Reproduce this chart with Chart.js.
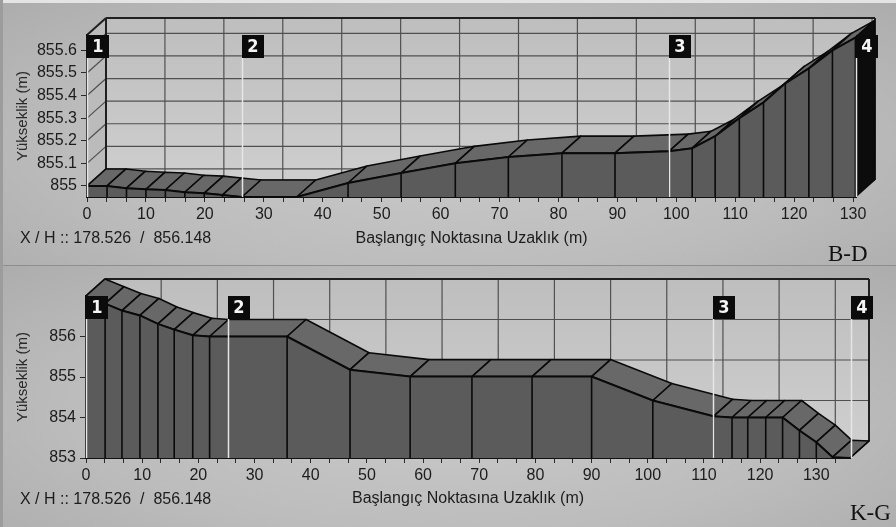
<!DOCTYPE html>
<html>
<head>
<meta charset="utf-8">
<title>Profil B-D / K-G</title>
<script src="https://cdn.jsdelivr.net/npm/chart.js@4.4.1/dist/chart.umd.min.js"></script>
<style>
  html, body { margin: 0; padding: 0; }
  body {
    width: 896px; height: 527px; overflow: hidden; position: relative;
    background: #b3b3b3;
    font-family: "Liberation Sans", Arial, sans-serif;
  }
  .panel {
    position: absolute; left: 0; width: 896px; overflow: hidden;
    background: radial-gradient(ellipse 70% 80% at 50% 55%, #cacaca 0%, #bcbcbc 60%, #acacac 100%);
  }
  #panelTop { top: 0; height: 265px; }
  #panelBottom { top: 266px; height: 261px; }
  #sep { position: absolute; left: 0; top: 265px; width: 896px; height: 1px; background: #8e8e8e; }
  #topStrip { position: absolute; left: 0; top: 0; width: 896px; height: 3px; background: #e4e4e4; }
  #leftStrip { position: absolute; left: 0; top: 0; width: 3px; height: 527px; background: #9c9c9c; }
  canvas { position: absolute; left: 0; top: 0; }
  .xh {
    position: absolute; left: 20px; font-size: 16px; line-height: 18px;
    color: #1c1c1c; white-space: pre;
  }
  .tag {
    position: absolute; font-family: "Liberation Serif", "Times New Roman", serif;
    font-size: 23px; line-height: 23px; color: #111;
  }
</style>
</head>
<body>
<div id="panelTop" class="panel">
  <canvas id="chartTop" width="896" height="265"></canvas>
  <div class="xh" style="top:229px">X / H :: 178.526  /  856.148</div>
  <div class="tag" style="left:828px; top:242px">B-D</div>
</div>
<div id="panelBottom" class="panel">
  <canvas id="chartBottom" width="896" height="261"></canvas>
  <div class="xh" style="top:224px">X / H :: 178.526  /  856.148</div>
  <div class="tag" style="left:850px; top:235px">K-G</div>
</div>
<div id="sep"></div>
<div id="topStrip"></div>
<div id="leftStrip"></div>

<script>
// B-D profile (top)
const distTop = [0, 3.4, 6.7, 10, 13.3, 16.6, 19.9, 23, 26.3, 35.6, 44.3, 53.3, 62.5, 71.5,
                 80.6, 89.6, 98.8, 102.7, 106.6, 110.7, 114.8, 118.5, 122.5, 126.5, 130.4];
const elevTop = [855.0, 855.0, 854.99, 854.985, 854.982, 854.972, 854.968, 854.96, 854.951, 854.951,
                 855.013, 855.057, 855.10, 855.128, 855.145, 855.145, 855.154, 855.167, 855.22,
                 855.30, 855.37, 855.454, 855.52, 855.60, 855.656];
const yTicksTop = [855, 855.1, 855.2, 855.3, 855.4, 855.5, 855.6];
const markersTop = [0, 26.3, 98.8, 130.5];

// K-G profile (bottom)
const distBottom = [0, 3.4, 6.4, 9.6, 12.8, 15.7, 19, 22, 35.8, 47, 57.7, 68.7, 79.4, 90,
                    100.9, 111.7, 115, 117.8, 121, 124, 127, 130, 132.9, 136];
const elevBottom = [857.0, 856.81, 856.64, 856.52, 856.31, 856.17, 856.03, 856.0, 856.0, 855.18,
                    855.01, 855.01, 855.01, 855.01, 854.42, 854.03, 854.0, 854.0, 854.0, 854.0,
                    853.68, 853.39, 853.02, 853.0];
const yTicksBottom = [853, 854, 855, 856];
const markersBottom = [0, 25.2, 111.7, 136.2];

const xTicks = [0, 10, 20, 30, 40, 50, 60, 70, 80, 90, 100, 110, 120, 130];
const markerLabels = ['1', '2', '3', '4'];

// 3D look
const DX = 19, DY = -17;
const FRONT = '#5b5b5b';
const TOP_FACE = '#686868';
const TEXT = '#1c1c1c';

function poly(ctx, pts) {
    ctx.beginPath();
    ctx.moveTo(pts[0][0], pts[0][1]);
    for (let i = 1; i < pts.length; i++) ctx.lineTo(pts[i][0], pts[i][1]);
    ctx.closePath();
}

function line(ctx, x1, y1, x2, y2) {
    ctx.beginPath();
    ctx.moveTo(x1, y1);
    ctx.lineTo(x2, y2);
    ctx.stroke();
}

const depthPlugin = {
    id: 'depth',
    // walls, grid and frame behind everything
    beforeDraw(chart, args, opts) {
        const { ctx, chartArea: a, scales: { x, y } } = chart;
        const w = a.right - a.left;
        ctx.save();

        const grad = ctx.createLinearGradient(0, a.top + DY, 0, a.bottom + DY);
        grad.addColorStop(0, '#bebebe');
        grad.addColorStop(1, '#cecece');
        ctx.fillStyle = grad;
        ctx.fillRect(a.left + DX, a.top + DY, w, a.bottom - a.top);

        ctx.fillStyle = '#bbbbbb';
        poly(ctx, [[a.left, a.top], [a.left + DX, a.top + DY], [a.left + DX, a.bottom + DY], [a.left, a.bottom]]);
        ctx.fill();
        ctx.fillStyle = '#adadad';
        poly(ctx, [[a.left, a.bottom], [a.left + DX, a.bottom + DY], [a.right + DX, a.bottom + DY], [a.right, a.bottom]]);
        ctx.fill();

        ctx.strokeStyle = '#505050';
        ctx.lineWidth = 1.2;
        opts.yTicks.forEach(v => {
            const py = y.getPixelForValue(v);
            line(ctx, a.left + DX, py + DY, a.right + DX, py + DY);
            line(ctx, a.left, py, a.left + DX, py + DY);
        });
        xTicks.forEach(v => {
            const px = x.getPixelForValue(v);
            line(ctx, px + DX, a.top + DY, px + DX, a.bottom + DY);
            line(ctx, px, a.bottom, px + DX, a.bottom + DY);
        });

        ctx.strokeStyle = '#202020';
        ctx.lineWidth = 2;
        line(ctx, a.left + DX, a.top + DY, a.right + DX, a.top + DY);
        line(ctx, a.right + DX, a.top + DY, a.right + DX, a.bottom + DY);
        line(ctx, a.left + DX, a.top + DY, a.left + DX, a.bottom + DY);
        line(ctx, a.left, a.top, a.left + DX, a.top + DY);
        ctx.lineWidth = 1;
        line(ctx, a.left + DX, a.bottom + DY, a.right + DX, a.bottom + DY);
        ctx.restore();
    },
    // upper faces of the slab and the closing face at the right end
    beforeDatasetsDraw(chart, args, opts) {
        const { ctx, chartArea: a, scales: { x, y } } = chart;
        const pts = chart.data.datasets[0].data.map(p => [x.getPixelForValue(p.x), y.getPixelForValue(p.y)]);
        ctx.save();
        ctx.lineJoin = 'round';
        ctx.strokeStyle = '#0a0a0a';
        ctx.lineWidth = 1.6;
        for (let i = 0; i < pts.length - 1; i++) {
            const p = pts[i], q = pts[i + 1];
            poly(ctx, [p, q, [q[0] + DX, q[1] + DY], [p[0] + DX, p[1] + DY]]);
            ctx.fillStyle = TOP_FACE;
            ctx.fill();
            ctx.stroke();
        }
        const l = pts[pts.length - 1];
        poly(ctx, [l, [l[0] + DX, l[1] + DY], [l[0] + DX, a.bottom + DY], [l[0], a.bottom]]);
        ctx.fillStyle = opts.endColor;
        ctx.fill();
        ctx.stroke();
        ctx.restore();
    },
    // vertex lines and the numbered station markers
    afterDatasetsDraw(chart, args, opts) {
        const { ctx, chartArea: a, scales: { x, y } } = chart;
        ctx.save();
        ctx.strokeStyle = '#0a0a0a';
        ctx.lineWidth = 1.6;
        chart.data.datasets[0].data.forEach(p => {
            const px = x.getPixelForValue(p.x);
            line(ctx, px, y.getPixelForValue(p.y), px, a.bottom);
        });

        opts.markers.forEach((m, i) => {
            const px = Math.round(x.getPixelForValue(m));
            const top = a.top;
            ctx.strokeStyle = '#e6e6e6';
            ctx.lineWidth = 1.5;
            line(ctx, px + 0.5, top + 23, px + 0.5, a.bottom);
            ctx.fillStyle = '#0b0b0b';
            ctx.fillRect(px, top, 22, 23);
            ctx.fillStyle = '#f4f4f4';
            ctx.font = 'bold 18px "DejaVu Sans Condensed", "Liberation Sans Narrow", sans-serif';
            ctx.textAlign = 'center';
            ctx.textBaseline = 'middle';
            ctx.fillText(markerLabels[i], px + 11, top + 12.5);
        });
        ctx.restore();
    }
};

function buildProfile(canvasId, cfg) {
    const canvas = document.getElementById(canvasId);
    const W = canvas.width, H = canvas.height;
    const a = cfg.area;
    const points = cfg.dist.map((d, i) => ({ x: d, y: cfg.elev[i] }));

    // three divisions between labelled distance ticks
    const allTicks = [];
    xTicks.forEach(t => {
        for (let k = 0; k < 3; k++) {
            const v = t + k * 10 / 3;
            if (v <= cfg.xMax) allTicks.push(v);
        }
    });

    return new Chart(canvas, {
        type: 'line',
        data: {
            datasets: [{
                data: points,
                borderColor: '#0a0a0a',
                borderWidth: 2,
                backgroundColor: FRONT,
                fill: 'start',
                pointRadius: 0,
                tension: 0
            }]
        },
        options: {
            responsive: false,
            animation: false,
            layout: {
                padding: { left: 0, top: a.top, right: W - a.right, bottom: H - a.bottom - cfg.axisH }
            },
            plugins: {
                legend: { display: false },
                tooltip: { enabled: false },
                depth: { yTicks: cfg.yTicks, markers: cfg.markers, endColor: cfg.endColor }
            },
            scales: {
                x: {
                    type: 'linear',
                    min: 0,
                    max: cfg.xMax,
                    afterFit: s => { s.height = cfg.axisH; },
                    afterBuildTicks: s => { s.ticks = allTicks.map(v => ({ value: v })); },
                    ticks: {
                        autoSkip: false, maxRotation: 0, minRotation: 0, padding: 3,
                        color: TEXT, font: { family: '"Liberation Sans", Arial, sans-serif', size: 16 },
                        callback: v => xTicks.includes(v) ? v : ''
                    },
                    grid: { drawOnChartArea: false, tickLength: 5, color: '#2a2a2a' },
                    border: { color: '#111', width: 2 },
                    title: {
                        display: true, text: 'Başlangıç Noktasına Uzaklık (m)', color: TEXT,
                        font: { family: '"Liberation Sans", Arial, sans-serif', size: 16 },
                        padding: { top: 0, bottom: 0 }
                    }
                },
                y: {
                    min: cfg.yMin,
                    max: cfg.yMax,
                    afterFit: s => { s.width = a.left; },
                    afterBuildTicks: s => { s.ticks = cfg.yTicks.map(v => ({ value: v })); },
                    ticks: {
                        padding: 4, color: TEXT,
                        font: { family: '"Liberation Sans", Arial, sans-serif', size: 16 },
                        callback: v => v
                    },
                    grid: { drawOnChartArea: false, tickLength: 6, color: '#2a2a2a' },
                    border: { color: '#111', width: 2 },
                    title: {
                        display: true, text: 'Yükseklik (m)', color: '#2a2a2a',
                        font: { family: '"Liberation Sans", Arial, sans-serif', size: 15 },
                        padding: { top: 14, bottom: 0 }
                    }
                }
            }
        },
        plugins: [depthPlugin]
    });
}

buildProfile('chartTop', {
    dist: distTop, elev: elevTop, yTicks: yTicksTop, markers: markersTop,
    area: { left: 87, right: 856, top: 35, bottom: 197 },
    xMax: 130.5, yMin: 854.951, yMax: 855.668, axisH: 51, endColor: '#0c0c0c'
});

buildProfile('chartBottom', {
    dist: distBottom, elev: elevBottom, yTicks: yTicksBottom, markers: markersBottom,
    area: { left: 86, right: 850, top: 30, bottom: 192 },
    xMax: 136, yMin: 853, yMax: 857, axisH: 50, endColor: '#7a7a7a'
});
</script>
</body>
</html>
